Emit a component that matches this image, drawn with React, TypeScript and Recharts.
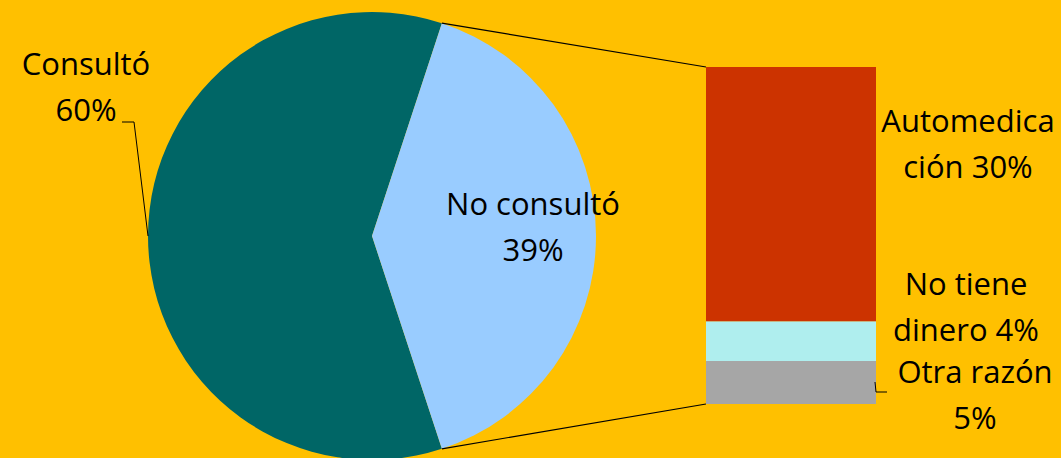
import React from 'react';
import { PieChart, Pie, Cell, BarChart, Bar, XAxis, YAxis } from 'recharts';

// Pie: who consulted
const pieNames = ['Consultó', 'No consultó'];
const pieValues = [60.1, 39.9];
const pieLabels = ['60%', '39%'];
const pieColors = ['#006666', '#99CCFF'];

// Bar: breakdown of "No consultó"
const barKeys = ['auto', 'dinero', 'otra'];
const barNames = ['Automedicación', 'No tiene dinero', 'Otra razón'];
const barValues = [30.1, 4.7, 5.1];
const barLabels = ['30%', '4%', '5%'];
const barColors = ['#CC3300', '#AFEEEE', '#A6A6A6'];

const W = 1061;
const H = 458;
const CX = 372;
const CY = 236;
const R = 224;
const BAR_X = 706;
const BAR_Y = 67;
const BAR_W = 170;
const BAR_H = 337;

const FONT = '"Open Sans", "Noto Sans", sans-serif';

const App = () => {
  const pieData = pieNames.map((name, i) => ({ name, value: pieValues[i] }));
  const pieTotal = pieValues.reduce((a, b) => a + b, 0);
  // the "other" slice sits centred on the right side of the pie
  const half = ((pieValues[1] / pieTotal) * 360) / 2;
  const rad = (half * Math.PI) / 180;
  const topPt = { x: CX + R * Math.cos(rad), y: CY - R * Math.sin(rad) };
  const botPt = { x: CX + R * Math.cos(rad), y: CY + R * Math.sin(rad) };

  const barRow: any = { name: pieNames[1] };
  barKeys.forEach((k, i) => (barRow[k] = barValues[i]));
  const barTotal = barValues.reduce((a, b) => a + b, 0);

  // text blocks: centre x, first baseline, lines
  const labels = [
    { x: 86, y: 75, lines: [pieNames[0], pieLabels[0]] },
    { x: 533, y: 215, lines: [pieNames[1], pieLabels[1]] },
    { x: 968, y: 132, lines: [barNames[0].slice(0, 10), barNames[0].slice(10) + ' ' + barLabels[0]] },
    { x: 966, y: 295, lines: ['No tiene', 'dinero ' + barLabels[1]] },
    { x: 975, y: 383, lines: [barNames[2], barLabels[2]] },
  ];

  return (
    <div style={{ position: 'absolute', left: 0, top: 0, width: W, height: H, background: '#FFC000', overflow: 'hidden' }}>
      <div style={{ position: 'absolute', left: 0, top: 0 }}>
        <PieChart width={W} height={H} margin={{ top: 0, right: 0, bottom: 0, left: 0 }}>
          <Pie
            data={pieData}
            dataKey="value"
            cx={CX}
            cy={CY}
            outerRadius={R}
            startAngle={half}
            endAngle={half + 360}
            stroke="none"
            isAnimationActive={false}
          >
            {pieData.map((d, i) => (
              <Cell key={d.name} fill={pieColors[i]} />
            ))}
          </Pie>
        </PieChart>
      </div>

      <div style={{ position: 'absolute', left: BAR_X, top: BAR_Y }}>
        <BarChart
          width={BAR_W}
          height={BAR_H}
          data={[barRow]}
          margin={{ top: 0, right: 0, bottom: 0, left: 0 }}
          barCategoryGap={0}
        >
          <XAxis dataKey="name" hide />
          <YAxis hide domain={[0, barTotal]} />
          {/* bottom of stack first */}
          {[2, 1, 0].map((i) => (
            <Bar key={barKeys[i]} dataKey={barKeys[i]} stackId="a" fill={barColors[i]} isAnimationActive={false} />
          ))}
        </BarChart>
      </div>

      <svg width={W} height={H} style={{ position: 'absolute', left: 0, top: 0, pointerEvents: 'none' }}>
        <line x1={topPt.x} y1={topPt.y} x2={BAR_X} y2={BAR_Y} stroke="#000" strokeWidth={1.2} />
        <line x1={botPt.x} y1={botPt.y} x2={BAR_X} y2={BAR_Y + BAR_H} stroke="#000" strokeWidth={1.2} />
        <polyline points={`122,122 134,122 ${CX - R},${CY}`} fill="none" stroke="#000" strokeWidth={1} />
        <polyline points={`875,382 876,392 887,392`} fill="none" stroke="#000" strokeWidth={1} />
        {labels.map((l, i) => (
          <text key={i} x={l.x} y={l.y} textAnchor="middle" fontFamily={FONT} fontSize={31} fill="#000">
            {l.lines.map((t, j) => (
              <tspan key={j} x={l.x} y={l.y + j * 46}>
                {t}
              </tspan>
            ))}
          </text>
        ))}
      </svg>
    </div>
  );
};

export default App;
